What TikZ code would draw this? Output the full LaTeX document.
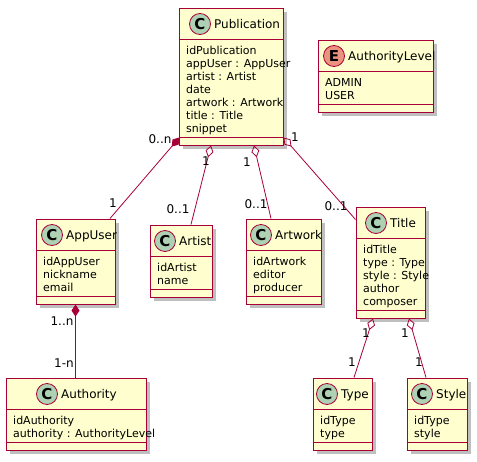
\documentclass[tikz,border=0pt]{standalone}
\usepackage{fontspec}
\setmainfont{DejaVu Sans}
\usetikzlibrary{arrows.meta,shadows,calc}

\definecolor{umlred}{HTML}{A80036}
\definecolor{umlfill}{HTML}{FEFECE}
\definecolor{circC}{HTML}{ADD1B2}
\definecolor{circE}{HTML}{EB937F}

\tikzset{
  classbox/.style={draw=umlred, fill=umlfill, line width=1pt, inner sep=0pt,
    drop shadow={shadow xshift=4pt, shadow yshift=-4pt, opacity=0.25, fill=black}},
  sepline/.style={draw=umlred, line width=0.9pt},
  spot/.style={draw=umlred, line width=0.8pt},
  spotletter/.style={font=\bfseries\fontsize{15}{15}\selectfont, inner sep=0pt},
  classname/.style={font=\fontsize{12}{14}\selectfont, inner sep=0pt, anchor=base west},
  attr/.style={font=\fontsize{11}{13}\selectfont, inner sep=0pt, anchor=base west},
  mult/.style={font=\fontsize{12}{14}\selectfont, inner sep=0pt},
  assoc/.style={draw=umlred, line width=0.8pt},
  comp/.style={assoc, {Diamond[length=12pt,width=8pt]}-},
  aggr/.style={assoc, {Diamond[open,length=12pt,width=8pt]}-},
}

% id, letter, spot offset, left, top, width, lines, name, attributes
\newcommand{\umlclass}[9]{%
  \pgfmathsetmacro{\boxh}{46+13*#7}
  \node[classbox, minimum width=#6pt, minimum height=\boxh pt] (#1) at (#4+#6/2, #5+\boxh/2) {};
  \draw[sepline] ($(#1.north west)+(0,32)$) -- ($(#1.north east)+(0,32)$);
  \draw[sepline] ($(#1.south west)+(0,-8)$) -- ($(#1.south east)+(0,-8)$);
  \draw[spot, fill=circ#2] (#4+#3, #5+16) circle[radius=10.5];
  \node[spotletter] (#1-spot) at (#4+#3, #5+16) {#2};
  \node[classname] (#1-name) at (#4+#3+14, #5+20) {#8};
  \foreach \fld [count=\i] in {#9}
    \node[attr] (#1-a\i) at (#4+7, #5+33+13*\i) {\fld};
}

\begin{document}
\begin{tikzpicture}[x=1pt, y=-1pt]
\useasboundingbox (0,0) rectangle (477,461);

\umlclass{pub}{C}{21}{179}{8}{104}{7}{Publication}{idPublication, appUser : AppUser, artist : Artist, date, artwork : Artwork, title : Title, snippet}
\umlclass{level}{E}{16}{318}{40}{115}{2}{AuthorityLevel}{ADMIN, USER}
\umlclass{appuser}{C}{16}{36}{219}{79}{3}{AppUser}{idAppUser, nickname, email}
\umlclass{artist}{C}{15}{150}{225}{62}{2}{Artist}{idArtist, name}
\umlclass{artwork}{C}{15}{246}{219}{75}{3}{Artwork}{idArtwork, editor, producer}
\umlclass{title}{C}{20}{356}{207}{69}{5}{Title}{idTitle, type : Type, style : Style, author, composer}
\umlclass{authority}{C}{41}{6}{378}{140}{2}{Authority}{idAuthority, authority : AuthorityLevel}
\umlclass{type}{C}{14}{313}{378}{59}{2}{Type}{idType, type}
\umlclass{style}{C}{15}{407}{378}{60}{2}{Style}{idType, style}

% associations
\draw[comp] ($(pub.south west)+(1,-8)$) -- ($(appuser.north)+(34.5,0)$);
\draw[aggr] ($(pub.south)+(-20,0)$) -- ($(artist.north)+(10,0)$);
\draw[aggr] ($(pub.south)+(23,0)$) -- ($(artwork.north)+(-12.5,0)$);
\draw[aggr] ($(pub.south east)+(0,-8)$) -- ($(title.north west)+(0,13)$);
\draw[comp] (appuser.south) -- (appuser.south |- authority.north);
\draw[aggr] ($(title.south)+(-17.5,0)$) -- ($(type.north)+(11.5,0)$);
\draw[aggr] ($(title.south)+(18.5,0)$) -- ($(style.north)+(-11,0)$);

% multiplicities
\node[mult] (m1) at (160,139) {0..n};
\node[mult] (m2) at (113,203) {1};
\node[mult] (m3) at (206,161) {1};
\node[mult] (m4) at (178,209) {0..1};
\node[mult] (m5) at (247,162) {1};
\node[mult] (m6) at (256,204) {0..1};
\node[mult] (m7) at (295,137) {1};
\node[mult] (m8) at (336,206) {0..1};
\node[mult] (m9) at (62,321) {1..n};
\node[mult] (m10) at (64,363) {1-n};
\node[mult] (m11) at (366,333) {1};
\node[mult] (m12) at (352,362) {1};
\node[mult] (m13) at (405,333) {1};
\node[mult] (m14) at (419,362) {1};
\end{tikzpicture}
\end{document}
